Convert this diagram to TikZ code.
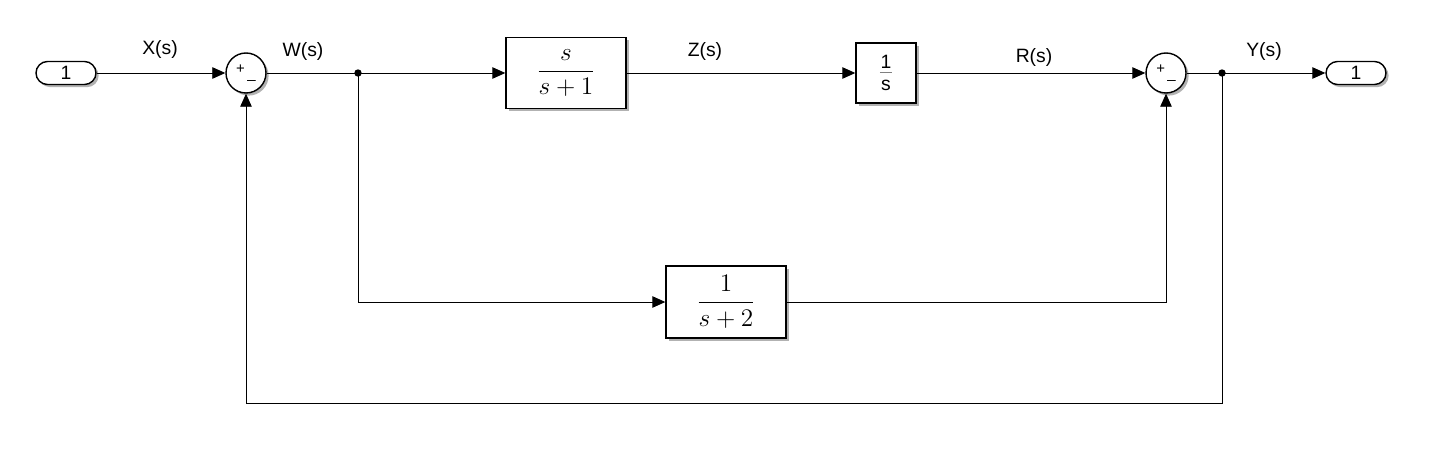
\documentclass[tikz,border=0pt]{standalone}
\usepackage{fontspec}
\setsansfont{Liberation Sans}
\usetikzlibrary{arrows.meta, positioning, shadows}

\begin{document}
\begin{tikzpicture}[x=0.02cm, y=-0.02cm, >={Triangle[length=2.6mm, width=2.3mm]},
  font=\sffamily\fontsize{11}{13}\selectfont,
  shd/.style={drop shadow={shadow xshift=1.5pt, shadow yshift=-1.5pt, fill=black, opacity=0.3}},
  blk/.style={draw, line width=0.8pt, fill=white, shd},
  sumb/.style={draw, circle, line width=0.8pt, fill=white, minimum size=0.8cm, inner sep=0pt, shd},
  port/.style={draw, line width=0.8pt, fill=white, rounded corners=0.23cm, minimum width=1.2cm, minimum height=0.46cm, inner sep=0pt, shd},
  sig/.style={line width=0.5pt}]
  \useasboundingbox (0,0) rectangle (1429,449);

  % blocks
  \node[port] (in) at (66,73) {1};
  \node[sumb] (sum1) at (246,73) {\fontsize{8.5}{8.5}\selectfont\raisebox{1pt}{+}\,\raisebox{-1.5pt}{\_}};
  \node[blk, minimum width=2.4cm, minimum height=1.42cm, font=\fontsize{14.5}{16}\selectfont] (g1) at (566,73) {$\displaystyle\frac{s}{s+1}$};
  \node[blk, minimum width=1.2cm, minimum height=1.2cm, align=center, inner sep=0pt] (g2) at (886,73)
    {1\\[-10pt]\textcolor{gray}{\rule{7pt}{0.7pt}}\\[-3pt]s};
  \node[sumb] (sum2) at (1166,73) {\fontsize{8.5}{8.5}\selectfont\raisebox{1pt}{+}\,\raisebox{-1.5pt}{\_}};
  \node[port] (out) at (1356,73) {1};
  \node[blk, minimum width=2.4cm, minimum height=1.44cm, font=\fontsize{14.5}{16}\selectfont] (g3) at (726,302) {$\displaystyle\frac{1}{s+2}$};

  % branch points
  \coordinate (dw) at (358,73);
  \coordinate (dy) at (1222,73);
  \coordinate (fb) at (1222,403);
  \fill (dw) circle (2.1pt);
  \fill (dy) circle (2.1pt);

  % signals
  \draw[sig, ->] (in) -- (sum1);
  \draw[sig] (sum1) -- (dw);
  \draw[sig, ->] (dw) -- (g1);
  \draw[sig, ->] (g1) -- (g2);
  \draw[sig, ->] (g2) -- (sum2);
  \draw[sig] (sum2) -- (dy);
  \draw[sig, ->] (dy) -- (out);
  \draw[sig, ->] (dw) |- (g3);
  \draw[sig, ->] (g3) -| (sum2);
  \draw[sig, ->] (dy) -- (fb) -| (sum1);

  % signal names
  \node (lx) at (160,50) {X(s)};
  \node (lw) at (303,52) {W(s)};
  \node (lz) at (705,52) {Z(s)};
  \node (lr) at (1034,58) {R(s)};
  \node (ly) at (1264,52) {Y(s)};
\end{tikzpicture}
\end{document}
